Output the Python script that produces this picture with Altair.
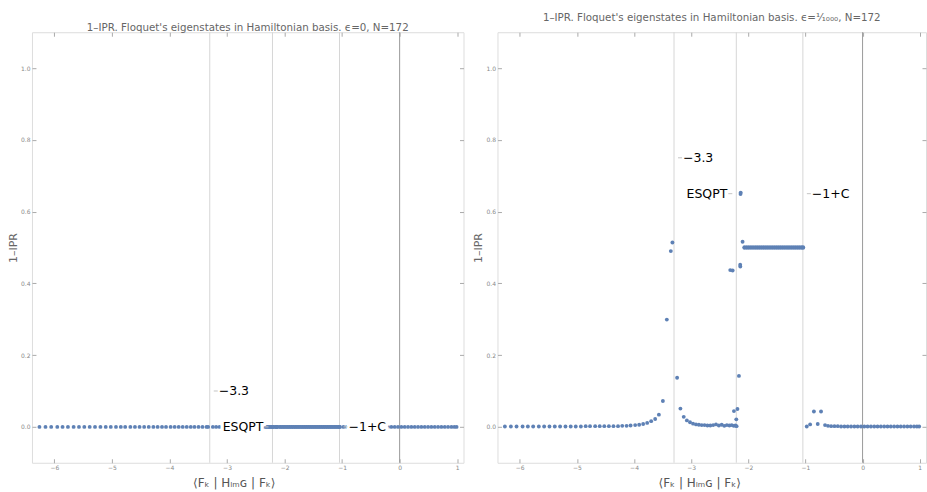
import altair as alt
import pandas as pd

# ---------------- data ----------------
# <F_k|H_LMG|F_k> and 1-IPR for eps = 1/1000 (right panel)
low_x = [-6.26, -6.155, -6.056, -5.95, -5.858, -5.765, -5.666, -5.573, -5.48, -5.387,
         -5.294, -5.2, -5.108, -5.02, -4.93, -4.846, -4.77, -4.68, -4.60, -4.52,
         -4.44, -4.36, -4.28, -4.206, -4.13, -4.06, -3.98, -3.91, -3.84, -3.77,
         -3.70, -3.63, -3.565, -3.495, -3.426, -3.356, -3.328]
low_y = [0.001, 0.001, 0.001, 0.001, 0.001, 0.001, 0.001, 0.001, 0.001, 0.001,
         0.001, 0.001, 0.001, 0.001, 0.001, 0.002, 0.002, 0.002, 0.002, 0.002,
         0.002, 0.002, 0.002, 0.003, 0.003, 0.004, 0.005, 0.006, 0.008, 0.011,
         0.016, 0.022, 0.034, 0.072, 0.299, 0.490, 0.514]

mid_x = [-3.246, -3.188, -3.13, -3.075, -3.02, -2.967, -2.915, -2.865, -2.815, -2.765,
         -2.715, -2.665, -2.615, -2.565, -2.515, -2.465, -2.42, -2.375, -2.33, -2.29,
         -2.255, -2.225, -2.205]
mid_y = [0.137, 0.051, 0.028, 0.018, 0.013, 0.009, 0.007, 0.006, 0.005, 0.005,
         0.004, 0.004, 0.005, 0.007, 0.004, 0.006, 0.003, 0.005, 0.004, 0.005,
         0.003, 0.004, 0.002]

edge_x = [-2.316, -2.274, -2.251, -2.21, -2.19, -2.164, -2.142, -2.140, -2.136, -2.133, -2.10]
edge_y = [0.437, 0.436, 0.044, 0.021, 0.050, 0.142, 0.452, 0.447, 0.649, 0.653, 0.516]

# degenerate doublets between the ESQPT and -1+C (two states per position)
pair_x = [-2.068, -2.030, -1.993, -1.955, -1.918, -1.880, -1.843, -1.806, -1.769, -1.731,
          -1.694, -1.657, -1.620, -1.583, -1.546, -1.509, -1.472, -1.435, -1.398, -1.361,
          -1.324, -1.288, -1.251, -1.214, -1.178, -1.141, -1.105, -1.068, -1.040]
pair_y_a = [0.501, 0.501, 0.501, 0.501, 0.501, 0.501, 0.501, 0.501, 0.501, 0.501,
            0.501, 0.501, 0.501, 0.501, 0.501, 0.501, 0.501, 0.501, 0.501, 0.501,
            0.501, 0.501, 0.501, 0.501, 0.501, 0.501, 0.501, 0.501, 0.501]
pair_y_b = [0.499, 0.499, 0.499, 0.499, 0.499, 0.499, 0.499, 0.499, 0.499, 0.499,
            0.499, 0.499, 0.499, 0.499, 0.499, 0.499, 0.499, 0.499, 0.499, 0.499,
            0.499, 0.499, 0.499, 0.499, 0.499, 0.499, 0.499, 0.499, 0.499]

high_x = [-0.977, -0.918, -0.852, -0.785, -0.727, -0.657, -0.605, -0.550, -0.492, -0.434,
          -0.376, -0.318, -0.260, -0.202, -0.144, -0.086, -0.028, 0.030, 0.088, 0.146,
          0.204, 0.262, 0.320, 0.378, 0.436, 0.494, 0.552, 0.610, 0.668, 0.726,
          0.784, 0.842, 0.900, 0.950, 0.990]
high_y = [0.001, 0.007, 0.043, 0.008, 0.043, 0.005, 0.003, 0.002, 0.002, 0.002,
          0.001, 0.001, 0.001, 0.001, 0.001, 0.001, 0.001, 0.001, 0.001, 0.001,
          0.001, 0.001, 0.001, 0.001, 0.001, 0.001, 0.001, 0.001, 0.001, 0.001,
          0.001, 0.001, 0.001, 0.001, 0.001]

# reference lines and their labels
line_x = [-3.3, -2.21, -1.045]
zero_x = [0.0]
lab_text = ["\u22123.3", "ESQPT", "\u22121+C"]
lab_x = [-3.3, -2.21, -1.045]
lab_side = ["right", "left", "right"]
lab_y_eps0 = [0.1, 0.0, 0.0]
lab_y_eps = [0.75, 0.65, 0.65]

x_ticks = [-6, -5, -4, -3, -2, -1, 0, 1]
y_ticks = [0.0, 0.2, 0.4, 0.6, 0.8, 1.0]

title_eps0 = "1\u2013IPR. Floquet's eigenstates in Hamiltonian basis. \u03f5=0, N=172"
title_eps = "1\u2013IPR. Floquet's eigenstates in Hamiltonian basis. \u03f5=\u00b9\u2044\u2081\u2080\u2080\u2080, N=172"
x_title = "\u27e8F\u2096 | H\u2097\u2098\u0262 | F\u2096\u27e9"
y_title = "1\u2013IPR"

# ---------------- build tables ----------------
all_x = low_x + mid_x + edge_x + pair_x + pair_x + high_x
all_y = low_y + mid_y + edge_y + pair_y_a + pair_y_b + high_y
df_eps = pd.DataFrame({"e": all_x, "ipr": all_y})
df_eps0 = pd.DataFrame({"e": all_x, "ipr": [0.0 for _ in all_x]})
df_lines = pd.DataFrame({"pos": line_x})
df_zero = pd.DataFrame({"pos": zero_x})

FONT = "DejaVu Sans"
BLUE = "#5E81B5"
H = 431
xdom = [-6.39, 1.11]
ydom = [-0.1, 1.1]


def xs():
    return alt.Scale(domain=xdom, nice=False, zero=False)


def ys():
    return alt.Scale(domain=ydom, nice=False, zero=False)


def panel(df, lab_y, title, width, title_offset):
    ann = pd.DataFrame({"label": lab_text, "ax": lab_x, "ay": lab_y, "side": lab_side})
    ax_bottom = alt.Axis(orient="bottom", values=x_ticks, format="d", offset=-4, tickSize=4,
                         domain=False, grid=False, tickColor="#aaaaaa", labelFont=FONT,
                         labelFontSize=6, labelColor="#888888", labelPadding=2,
                         title=x_title, titleFont=FONT, titleFontSize=12, titleFontWeight="normal",
                         titleColor="#555555", titlePadding=7, titleX=202, titleAlign="center")
    ax_left = alt.Axis(orient="left", values=y_ticks, format=".1f", offset=-4, tickSize=4,
                       domain=False, grid=False, tickColor="#aaaaaa", labelFont=FONT,
                       labelFontSize=6, labelColor="#888888", labelPadding=2,
                       title=y_title, titleFont=FONT, titleFontSize=11, titleFontWeight="normal",
                       titleColor="#666666", titlePadding=2)
    ax_top = alt.Axis(orient="top", values=x_ticks, offset=-4, tickSize=4, domain=False,
                      grid=False, labels=False, tickColor="#aaaaaa", title=None)
    ax_right = alt.Axis(orient="right", values=y_ticks, offset=-4, tickSize=4, domain=False,
                        grid=False, labels=False, tickColor="#aaaaaa", title=None)

    vlines = alt.Chart(df_lines).mark_rule(color="#d6d6d6", strokeWidth=1).encode(
        x=alt.X("pos:Q", scale=xs(), axis=ax_top))
    zline = alt.Chart(df_zero).mark_rule(color="#9a9a9a", strokeWidth=1).encode(
        x=alt.X("pos:Q", scale=xs(), axis=None))
    pts = alt.Chart(df).mark_circle(size=15, color=BLUE, opacity=1).encode(
        x=alt.X("e:Q", scale=xs(), axis=ax_bottom),
        y=alt.Y("ipr:Q", scale=ys(), axis=ax_left))

    layers = [vlines, zline, pts]
    for side, align, dx, o1, o2 in [("right", "left", 9, 4, 8), ("left", "right", -9, -4, -8)]:
        base = alt.Chart(ann).transform_filter(f"datum.side == '{side}'")
        bg = base.mark_text(align=align, baseline="middle", dx=dx, font=FONT, fontSize=12.5,
                            color="white", stroke="white", strokeWidth=7, strokeJoin="round").encode(
            x=alt.X("ax:Q", scale=xs(), axis=None),
            y=alt.Y("ay:Q", scale=ys(), axis=None), text="label:N")
        dash = base.mark_rule(color="#c4c4c4", strokeWidth=1, xOffset=o1, x2Offset=o2).encode(
            x=alt.X("ax:Q", scale=xs(), axis=None), x2="ax:Q",
            y=alt.Y("ay:Q", scale=ys(), axis=None))
        layers += [bg, dash]
    txt_r = alt.Chart(ann).transform_filter("datum.side == 'right'").mark_text(
        align="left", baseline="middle", dx=9, font=FONT, fontSize=12.5, color="black").encode(
        x=alt.X("ax:Q", scale=xs(), axis=None),
        y=alt.Y("ay:Q", scale=ys(), axis=ax_right), text="label:N")
    txt_l = alt.Chart(ann).transform_filter("datum.side == 'left'").mark_text(
        align="right", baseline="middle", dx=-9, font=FONT, fontSize=12.5, color="black").encode(
        x=alt.X("ax:Q", scale=xs(), axis=None),
        y=alt.Y("ay:Q", scale=ys(), axis=None), text="label:N")
    layers += [txt_r, txt_l]

    return alt.layer(*layers).resolve_axis(x="independent", y="independent").properties(
        width=width, height=H,
        title=alt.Title(title, font=FONT, fontSize=10.3, fontWeight="normal", color="#666666",
                        anchor="middle", offset=title_offset))


left = panel(df_eps0, lab_y_eps0, title_eps0, 432, -2)
right = panel(df_eps, lab_y_eps, title_eps, 429, 8)

chart = alt.hconcat(left, right, spacing=7).properties(
    padding={"left": 6, "top": 12, "right": 0, "bottom": 0}
).configure_view(stroke="#9a9a9a", strokeWidth=1).configure(background="white")

chart.save("out.html", embed_options={"renderer": "svg", "actions": False})
